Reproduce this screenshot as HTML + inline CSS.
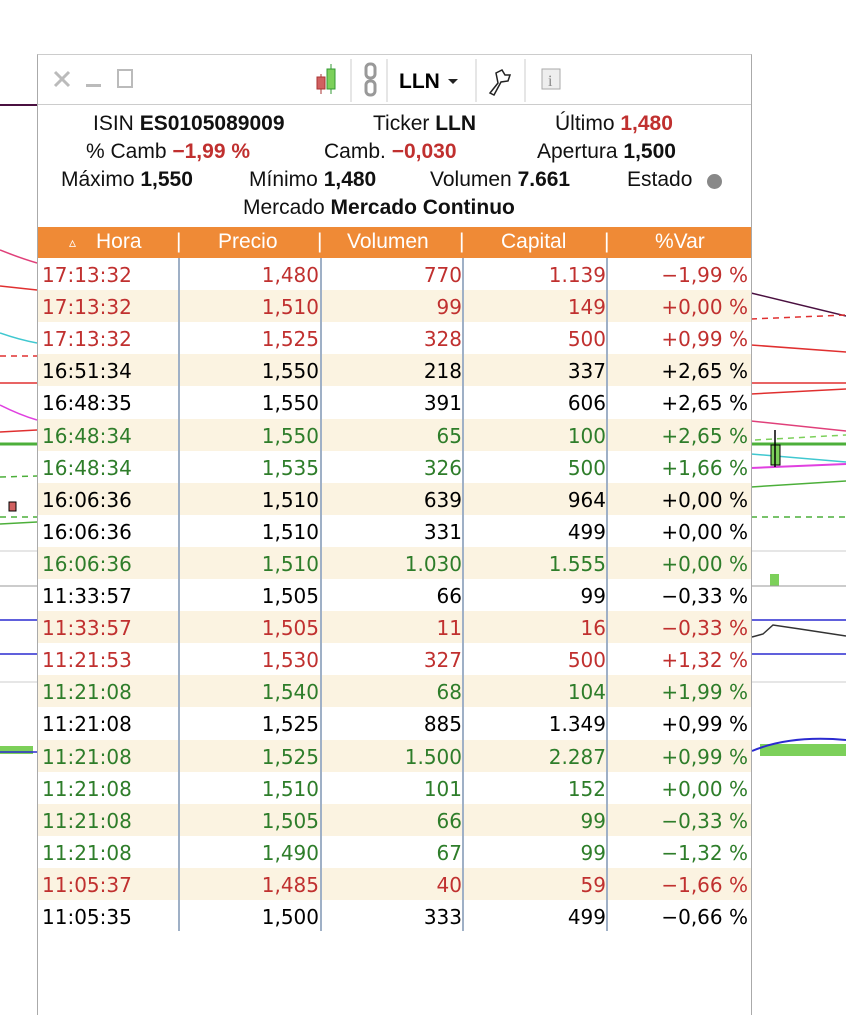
<!DOCTYPE html>
<html><head><meta charset="utf-8"><style>
body{margin:0;width:846px;height:1010px;background:#fff;position:relative;overflow:hidden;font-family:"Liberation Sans",sans-serif}
#bg{position:absolute;left:0;top:0}
#panel{position:absolute;left:37px;top:54px;width:713px;height:960px;background:#fff;border-left:1px solid #aaa;border-right:1px solid #aaa;border-top:1px solid #ccc}
#tb{position:absolute;left:0;top:0;width:713px;height:49px;border-bottom:1px solid #ccc}
.info{position:absolute;left:0;width:713px;font-size:21px;color:#111;white-space:pre}
.info b{font-weight:bold}
.r{color:#c0302f}
#hdr{position:absolute;left:0;top:172px;width:713px;height:31px;background:#ef8a36;color:#fff;font-size:21px}
#hdr span{position:absolute;top:3px}
.row{position:absolute;left:0;width:713px;height:32px;font-family:"DejaVu Sans",sans-serif;font-size:20px}
.row span{position:absolute;top:5px}
.alt{background:#fbf3e1}
.vl{position:absolute;top:203px;height:673px;width:2px;background:#9fb0c6}
</style></head><body>
<svg id="bg" width="846" height="1010">
<line x1="0" y1="105" x2="37" y2="105" stroke="#4a1040" stroke-width="2"/>
<path d="M0 250 Q20 258 37 263" stroke="#e0407a" fill="none" stroke-width="1.5"/>
<line x1="0" y1="286" x2="37" y2="290" stroke="#e03030" stroke-width="1.5"/>
<path d="M0 333 Q20 340 37 343" stroke="#40c8d0" fill="none" stroke-width="1.5"/>
<line x1="0" y1="356" x2="37" y2="356" stroke="#e03030" stroke-width="1.5" stroke-dasharray="6,5"/>
<line x1="0" y1="383" x2="37" y2="383" stroke="#e03030" stroke-width="1.5"/>
<path d="M0 405 Q20 415 37 420" stroke="#e040e0" fill="none" stroke-width="1.5"/>
<line x1="0" y1="432" x2="37" y2="430" stroke="#e03030" stroke-width="1.5"/>
<line x1="0" y1="444" x2="37" y2="444" stroke="#4caf3a" stroke-width="3"/>
<line x1="0" y1="477" x2="37" y2="476" stroke="#4caf3a" stroke-width="1.5" stroke-dasharray="6,5"/>
<line x1="0" y1="517" x2="37" y2="517" stroke="#4caf3a" stroke-width="1.5" stroke-dasharray="6,5"/>
<line x1="0" y1="524" x2="37" y2="522" stroke="#4caf3a" stroke-width="1.5"/>
<rect x="9" y="502" width="7" height="9" fill="#d06060" stroke="#000"/>
<line x1="0" y1="551" x2="37" y2="551" stroke="#ccc"/>
<line x1="0" y1="586" x2="37" y2="586" stroke="#999"/>
<line x1="0" y1="620" x2="37" y2="620" stroke="#2b2bd0" stroke-width="1.5"/>
<line x1="0" y1="654" x2="37" y2="654" stroke="#2b2bd0" stroke-width="1.5"/>
<line x1="0" y1="682" x2="37" y2="682" stroke="#ccc"/>
<rect x="0" y="746" width="33" height="8" fill="#7cd05a"/>
<line x1="0" y1="752" x2="37" y2="752" stroke="#2b2bd0" stroke-width="1.5"/>
<line x1="751" y1="293" x2="846" y2="316" stroke="#4a1040" stroke-width="1.5"/>
<line x1="751" y1="319" x2="846" y2="315" stroke="#e03030" stroke-width="1.5" stroke-dasharray="6,5"/>
<line x1="751" y1="345" x2="846" y2="352" stroke="#e03030" stroke-width="1.5"/>
<line x1="751" y1="383" x2="846" y2="383" stroke="#e03030" stroke-width="1.5"/>
<line x1="751" y1="394" x2="846" y2="389" stroke="#e03030" stroke-width="1.5"/>
<line x1="751" y1="421" x2="846" y2="431" stroke="#e0407a" stroke-width="1.5"/>
<line x1="755" y1="440" x2="846" y2="435" stroke="#7cd05a" stroke-width="1.5" stroke-dasharray="6,5"/>
<line x1="751" y1="444" x2="846" y2="444" stroke="#4caf3a" stroke-width="3"/>
<line x1="751" y1="454" x2="846" y2="462" stroke="#40c8d0" stroke-width="1.5"/>
<line x1="751" y1="468" x2="846" y2="464" stroke="#e040e0" stroke-width="2"/>
<line x1="751" y1="487" x2="846" y2="481" stroke="#4caf3a" stroke-width="1.5"/>
<line x1="751" y1="517" x2="846" y2="517" stroke="#4caf3a" stroke-width="1.5" stroke-dasharray="6,5"/>
<rect x="771" y="445" width="9" height="20" fill="#7cd05a" stroke="#000"/>
<line x1="775" y1="430" x2="775" y2="467" stroke="#000" stroke-width="1.5"/>
<line x1="751" y1="551" x2="846" y2="551" stroke="#ccc"/>
<rect x="770" y="574" width="9" height="12" fill="#7cd05a"/>
<line x1="751" y1="586" x2="846" y2="586" stroke="#999"/>
<line x1="751" y1="620" x2="846" y2="620" stroke="#2b2bd0" stroke-width="1.5"/>
<path d="M752 637 L763 634 L773 625 L800 629 L846 636" stroke="#333" fill="none" stroke-width="1.5"/>
<line x1="751" y1="654" x2="846" y2="654" stroke="#2b2bd0" stroke-width="1.5"/>
<line x1="751" y1="682" x2="846" y2="682" stroke="#ccc"/>
<rect x="760" y="744" width="86" height="12" fill="#7cd05a"/>
<path d="M752 751 Q790 735 846 740" stroke="#2b2bd0" fill="none" stroke-width="2"/>
</svg>
<div id="panel">
<div id="tb">
<svg width="713" height="49">
<g stroke="#bbb" stroke-width="3"><line x1="17" y1="17" x2="31" y2="31"/><line x1="31" y1="17" x2="17" y2="31"/></g>
<rect x="48" y="29" width="15" height="3" fill="#bbb"/>
<rect x="80" y="15" width="14" height="17" fill="none" stroke="#bbb" stroke-width="2"/>
<line x1="283" y1="19" x2="283" y2="39" stroke="#a33"/><rect x="279" y="22" width="8" height="12" fill="#d06060" stroke="#a33"/>
<line x1="293" y1="9" x2="293" y2="39" stroke="#393"/><rect x="289" y="14" width="8" height="20" fill="#7cd05a" stroke="#393"/>
<line x1="313" y1="4" x2="313" y2="47" stroke="#ccc"/>
<rect x="328" y="9" width="9" height="14" rx="4" fill="none" stroke="#999" stroke-width="3"/>
<rect x="328" y="26" width="9" height="14" rx="4" fill="none" stroke="#999" stroke-width="3"/>
<line x1="349" y1="4" x2="349" y2="47" stroke="#ccc"/>
<text x="361" y="33" font-family="Liberation Sans" font-weight="bold" font-size="21">LLN</text>
<path d="M410 24 L420 24 L415 29Z" fill="#222"/>
<line x1="438" y1="4" x2="438" y2="47" stroke="#ccc"/>
<path d="M452 38 L460 28 L458 18 L464 15 L467 20 L472 20 L470 26 L463 27 L456 40Z" fill="none" stroke="#222" stroke-width="1.5"/>
<line x1="487" y1="4" x2="487" y2="47" stroke="#ccc"/>
<rect x="504" y="14" width="18" height="20" fill="#eee" stroke="#aaa"/>
<text x="510" y="31" font-family="Liberation Serif" font-size="16" fill="#888">i</text>
</svg>
</div>
<div class="info" style="top:57px"><span style="position:absolute;left:55px">ISIN <b>ES0105089009</b></span><span style="position:absolute;left:335px">Ticker <b>LLN</b></span><span style="position:absolute;left:517px">Último <b class="r">1,480</b></span></div>
<div class="info" style="top:85px"><span style="position:absolute;left:48px">% Camb <b class="r">−1,99 %</b></span><span style="position:absolute;left:286px">Camb. <b class="r">−0,030</b></span><span style="position:absolute;left:499px">Apertura <b>1,500</b></span></div>
<div class="info" style="top:113px"><span style="position:absolute;left:23px">Máximo <b>1,550</b></span><span style="position:absolute;left:211px">Mínimo <b>1,480</b></span><span style="position:absolute;left:392px">Volumen <b>7.661</b></span><span style="position:absolute;left:589px">Estado</span><span style="position:absolute;left:669px;top:6px;width:15px;height:15px;border-radius:50%;background:#888"></span></div>
<div class="info" style="top:141px"><span style="position:absolute;left:205px">Mercado <b>Mercado Continuo</b></span></div>
<div id="hdr"><span style="left:31px;font-size:14px;top:7px">▵</span><span style="left:58px">Hora</span><span style="left:138px">|</span><span style="left:180px">Precio</span><span style="left:279px">|</span><span style="left:309px">Volumen</span><span style="left:421px">|</span><span style="left:463px">Capital</span><span style="left:566px">|</span><span style="left:617px">%Var</span></div>
<div id="rows"></div>
<div class="vl" style="left:140px"></div><div class="vl" style="left:282px"></div><div class="vl" style="left:424px"></div><div class="vl" style="left:568px"></div>
</div>
<script>
var d=[["17:13:32","1,480","770","1.139","−1,99 %","r"],["17:13:32","1,510","99","149","+0,00 %","r"],["17:13:32","1,525","328","500","+0,99 %","r"],["16:51:34","1,550","218","337","+2,65 %","k"],["16:48:35","1,550","391","606","+2,65 %","k"],["16:48:34","1,550","65","100","+2,65 %","g"],["16:48:34","1,535","326","500","+1,66 %","g"],["16:06:36","1,510","639","964","+0,00 %","k"],["16:06:36","1,510","331","499","+0,00 %","k"],["16:06:36","1,510","1.030","1.555","+0,00 %","g"],["11:33:57","1,505","66","99","−0,33 %","k"],["11:33:57","1,505","11","16","−0,33 %","r"],["11:21:53","1,530","327","500","+1,32 %","r"],["11:21:08","1,540","68","104","+1,99 %","g"],["11:21:08","1,525","885","1.349","+0,99 %","k"],["11:21:08","1,525","1.500","2.287","+0,99 %","g"],["11:21:08","1,510","101","152","+0,00 %","g"],["11:21:08","1,505","66","99","−0,33 %","g"],["11:21:08","1,490","67","99","−1,32 %","g"],["11:05:37","1,485","40","59","−1,66 %","r"],["11:05:35","1,500","333","499","−0,66 %","k"]];
var c={r:"#c0302f",g:"#2e7d2a",k:"#000"},h="";
d.forEach(function(x,i){h+='<div class="row'+(i%2?' alt':'')+'" style="top:'+(203+i*32.1)+'px;color:'+c[x[5]]+'"><span style="left:4px">'+x[0]+'</span><span style="right:432px">'+x[1]+'</span><span style="right:289px">'+x[2]+'</span><span style="right:145px">'+x[3]+'</span><span style="right:3px">'+x[4]+'</span></div>';});
document.getElementById('rows').innerHTML=h;
</script>
</body></html>
